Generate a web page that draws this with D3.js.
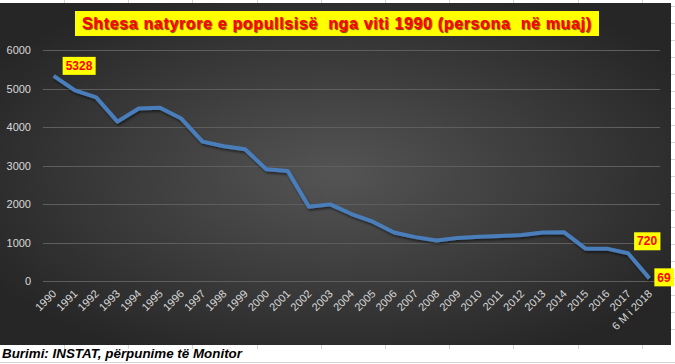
<!DOCTYPE html>
<html>
<head>
<meta charset="utf-8">
<script src="https://cdn.jsdelivr.net/npm/d3@7"></script>
<style>
  body { margin: 0; background: #fff; }
  svg { display: block; }
</style>
</head>
<body>
<svg id="chart" width="675" height="364"></svg>
<script>
// natural population increase, persons per month
const years = ["1990","1991","1992","1993","1994","1995","1996","1997","1998","1999",
  "2000","2001","2002","2003","2004","2005","2006","2007","2008","2009","2010",
  "2011","2012","2013","2014","2015","2016","2017","6 M i 2018"];
const values = [5328, 4950, 4770, 4140, 4480, 4500, 4220, 3620, 3500, 3420,
  2900, 2860, 1930, 1990, 1740, 1540, 1260, 1140, 1050, 1120, 1150,
  1170, 1195, 1260, 1265, 840, 840, 720, 69];
const yTicks = [0, 1000, 2000, 3000, 4000, 5000, 6000];
const labelled = ["1990", "2017", "6 M i 2018"];
const title = "Shtesa natyrore e popullsisë  nga viti 1990 (persona  në muaj)";
const source = "Burimi: INSTAT, përpunime të Monitor";

const svg = d3.select("#chart");
const W = 675, H = 364;

// spreadsheet grid behind the chart
const grid = svg.append("g").attr("stroke", "#d4d4d4").attr("stroke-width", 1);
d3.range(64, W, 64.2).forEach(x => {
  grid.append("line").attr("x1", Math.round(x) + 0.5).attr("x2", Math.round(x) + 0.5).attr("y1", 0).attr("y2", 4);
  grid.append("line").attr("x1", Math.round(x) + 0.5).attr("x2", Math.round(x) + 0.5).attr("y1", 344).attr("y2", 349);
});
d3.range(6, 345, 17).forEach(y => {
  grid.append("line").attr("x1", 671).attr("x2", W).attr("y1", y + 0.5).attr("y2", y + 0.5);
});
grid.append("line").attr("x1", 0).attr("x2", W).attr("y1", 362.5).attr("y2", 362.5);

// chart background
const defs = svg.append("defs");
const rg = defs.append("radialGradient").attr("id", "bg")
  .attr("cx", "50%").attr("cy", "50%").attr("r", "60%");
rg.append("stop").attr("offset", "0%").attr("stop-color", "#545454");
rg.append("stop").attr("offset", "100%").attr("stop-color", "#262626");
const sh = defs.append("filter").attr("id", "shadow").attr("x", "-10%").attr("y", "-10%").attr("width", "120%").attr("height", "130%");
sh.append("feDropShadow").attr("dx", 1).attr("dy", 2).attr("stdDeviation", 1.2).attr("flood-color", "#000").attr("flood-opacity", 0.5);

svg.append("rect").attr("x", 0).attr("y", 3).attr("width", 671).attr("height", 342).attr("fill", "url(#bg)");

const x = d3.scalePoint().domain(years).range([43, 660]).padding(0.5);
const y = d3.scaleLinear().domain([0, 6000]).range([281, 50]);

// gridlines + y labels
const yAxis = svg.append("g");
yAxis.selectAll("line").data(yTicks).join("line")
  .attr("x1", 43).attr("x2", 660)
  .attr("y1", d => Math.round(y(d)) + 0.5).attr("y2", d => Math.round(y(d)) + 0.5)
  .attr("stroke", "#5e5e5e").attr("stroke-width", 1);
yAxis.selectAll("text").data(yTicks).join("text")
  .attr("x", 31).attr("y", d => y(d) + 4)
  .attr("text-anchor", "end")
  .attr("font-family", "Liberation Sans, Arial, sans-serif")
  .attr("font-size", 11).attr("fill", "#d9d9d9")
  .text(d => d);

// x labels, rotated
svg.append("g").selectAll("text").data(years).join("text")
  .attr("transform", d => `translate(${x(d) - 2},${289}) rotate(-45)`)
  .attr("text-anchor", "end")
  .attr("dy", "0.7em")
  .attr("font-family", "Liberation Sans, Arial, sans-serif")
  .attr("font-size", 11).attr("fill", "#d9d9d9")
  .text(d => d);

// the line
const line = d3.line().x((d, i) => x(years[i])).y(d => y(d));
svg.append("path").datum(values)
  .attr("d", line)
  .attr("fill", "none")
  .attr("stroke", "#4a7ebb")
  .attr("stroke-width", 4)
  .attr("stroke-linejoin", "round")
  .attr("filter", "url(#shadow)");

// value labels
const offsets = { "1990": [9, -10], "2017": [6, -12], "6 M i 2018": [5, -1] };
labelled.forEach(k => {
  const i = years.indexOf(k);
  const [dx, dy] = offsets[k];
  const g = svg.append("g").attr("transform", `translate(${x(k) + dx},${y(values[i]) + dy})`);
  const t = g.append("text")
    .attr("font-family", "Liberation Sans, Arial, sans-serif")
    .attr("font-weight", "bold").attr("font-size", 12)
    .attr("fill", "#ff0000").attr("x", 3).attr("y", 0).attr("dy", "0.35em")
    .text(values[i]);
  const bb = t.node().getBBox();
  g.insert("rect", "text").attr("x", 0).attr("y", -9)
    .attr("width", bb.width + 6).attr("height", 18).attr("fill", "#ffff00");
});

// title
svg.append("rect").attr("x", 75).attr("y", 11).attr("width", 524).attr("height", 25).attr("fill", "#ffff00");
svg.append("text").attr("x", 82).attr("y", 29)
  .attr("font-family", "Liberation Sans, Arial, sans-serif")
  .attr("font-weight", "bold").attr("font-size", 16)
  .attr("fill", "#ff0000")
  .attr("textLength", 509).attr("lengthAdjust", "spacing")
  .style("white-space", "pre")
  .style("text-shadow", "1px 1px 1px #7a3a00")
  .text(title);

// source
svg.append("text").attr("x", 2).attr("y", 358)
  .attr("font-family", "Liberation Sans, Arial, sans-serif")
  .attr("font-weight", "bold").attr("font-style", "italic").attr("font-size", 13)
  .attr("fill", "#000")
  .attr("textLength", 240).attr("lengthAdjust", "spacingAndGlyphs")
  .text(source);
</script>
</body>
</html>
